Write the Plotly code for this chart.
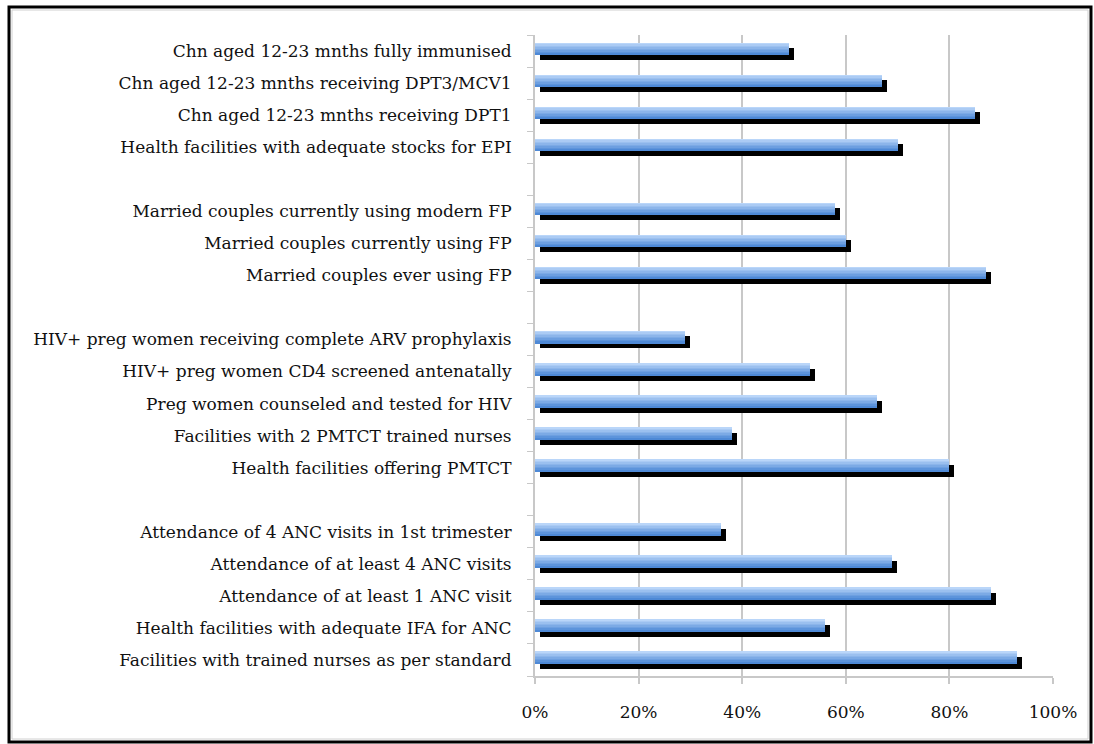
import plotly.graph_objects as go

# Indicator labels, top to bottom; empty strings separate the four groups
indicators = [
    "Chn aged 12-23 mnths fully immunised",
    "Chn aged 12-23 mnths receiving DPT3/MCV1",
    "Chn aged 12-23 mnths receiving DPT1",
    "Health facilities with adequate stocks for EPI",
    "",
    "Married couples currently using modern FP",
    "Married couples currently using FP",
    "Married couples ever using FP",
    "",
    "HIV+ preg women receiving complete ARV prophylaxis",
    "HIV+ preg women CD4 screened antenatally",
    "Preg women counseled and tested for HIV",
    "Facilities with 2 PMTCT trained nurses",
    "Health facilities offering PMTCT",
    "",
    "Attendance of 4 ANC visits in 1st trimester",
    "Attendance of at least 4 ANC visits",
    "Attendance of at least 1 ANC visit",
    "Health facilities with adequate IFA for ANC",
    "Facilities with trained nurses as per standard",
]

# Coverage (fraction); None for the group separators
coverage = [
    0.49, 0.67, 0.85, 0.70,
    None,
    0.58, 0.60, 0.87,
    None,
    0.29, 0.53, 0.66, 0.38, 0.80,
    None,
    0.36, 0.69, 0.88, 0.56, 0.93,
]

x_ticks = [0, 0.2, 0.4, 0.6, 0.8, 1.0]
x_tick_labels = ["0%", "20%", "40%", "60%", "80%", "100%"]

# ---- layout geometry (pixels) ----
W, H = 1094, 744
PLOT_L, PLOT_R, PLOT_T, PLOT_B = 535, 1053, 35, 676
plot_w = PLOT_R - PLOT_L
plot_h = PLOT_B - PLOT_T
n_slots = len(indicators)
slot_px = plot_h / n_slots

bar_px = 12           # bar thickness
shadow_dx, shadow_dy = 5, 5
bar_width = bar_px / slot_px
bar_offset = -bar_width / 2 - 2 / slot_px
shadow_offset = bar_offset + shadow_dy / slot_px
shadow_base = shadow_dx / plot_w

pos = [i for i, v in enumerate(coverage) if v is not None]
vals = [coverage[i] for i in pos]

fig = go.Figure()

# drop shadow behind every bar
fig.add_trace(go.Bar(
    y=pos, x=vals, base=[shadow_base] * len(vals), orientation="h",
    width=bar_width, offset=shadow_offset,
    marker=dict(color="#000000", line=dict(width=0)),
    hoverinfo="skip", showlegend=False,
))

# blue bars built from horizontal bands for a light-to-dark gradient
top_rgb = (186, 214, 249)
bot_rgb = (78, 137, 214)
n_bands = 8
band_w = bar_width / n_bands
for k in range(n_bands):
    t = k / (n_bands - 1)
    r, g, b = (round(top_rgb[j] + (bot_rgb[j] - top_rgb[j]) * t) for j in range(3))
    fig.add_trace(go.Bar(
        y=pos, x=vals, orientation="h",
        width=band_w * 1.02, offset=bar_offset + k * band_w,
        marker=dict(color=f"rgb({r},{g},{b})", line=dict(width=0)),
        hovertemplate="%{x:.0%}<extra></extra>", showlegend=False,
    ))

label_font = dict(family="DejaVu Serif", size=17, color="#111111")

fig.update_layout(
    width=W, height=H,
    margin=dict(l=PLOT_L, r=W - PLOT_R, t=PLOT_T, b=H - PLOT_B, pad=0),
    paper_bgcolor="white", plot_bgcolor="white",
    barmode="overlay", bargap=0,
    xaxis=dict(
        range=[0, 1], tickvals=x_ticks, ticktext=x_tick_labels,
        showgrid=True, gridcolor="#c8c8c8", gridwidth=2,
        showline=True, linecolor="#c8c8c8", linewidth=2,
        ticks="outside", ticklen=6, tickcolor="#c8c8c8", tickwidth=2,
        ticklabelstandoff=14, tickfont=label_font, zeroline=False,
        fixedrange=True,
    ),
    yaxis=dict(
        range=[n_slots - 0.5, -0.5],
        tickvals=list(range(n_slots)), ticktext=indicators,
        ticks="", showgrid=False, zeroline=False,
        showline=True, linecolor="#c8c8c8", linewidth=2,
        ticklabelstandoff=18, tickfont=label_font,
        minor=dict(tickvals=[i - 0.5 for i in range(n_slots + 1)],
                   ticks="outside", ticklen=6, tickcolor="#c8c8c8",
                   tickwidth=1, showgrid=False),
        fixedrange=True,
    ),
)


def px_x(p):
    return (p - PLOT_L) / plot_w


def px_y(p):
    return (PLOT_B - p) / plot_h


# outer black frame and the thin grey chart-area border inside it
fig.add_shape(type="rect", xref="paper", yref="paper",
              x0=px_x(9), x1=px_x(1091), y0=px_y(7), y1=px_y(742),
              line=dict(color="#000000", width=3), layer="below")
fig.add_shape(type="rect", xref="paper", yref="paper",
              x0=px_x(12), x1=px_x(1088), y0=px_y(10), y1=px_y(739),
              line=dict(color="#d0d0d0", width=1), layer="below")

fig.write_html("out.html")
